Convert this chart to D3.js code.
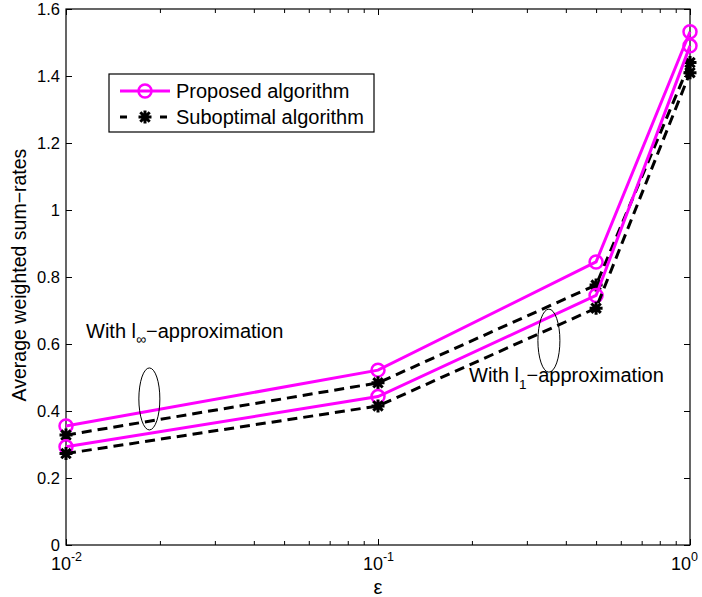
<html>
<head>
  <style>
    body {
      margin: 0;
      background: white;
      font-family: "Liberation Sans", Arial, Helvetica, sans-serif;
    }
    svg {
      display: block;
    }
  </style>
  <script src="https://d3js.org/d3.v7.min.js"></script>
</head>
<body>
  <svg id="Chart"></svg>
<script>
  // x values (epsilon), log axis
  let epsValues = [0.01, 0.1, 0.5, 1];
  // average weighted sum-rates
  let proposedLinf = [0.355, 0.522, 0.845, 1.532];
  let suboptimalLinf = [0.328, 0.484, 0.776, 1.440];
  let proposedL1 = [0.293, 0.443, 0.745, 1.490];
  let suboptimalL1 = [0.273, 0.415, 0.707, 1.410];

  let yTicks = [0, 0.2, 0.4, 0.6, 0.8, 1, 1.2, 1.4, 1.6];
  let xMajorTicks = [0.01, 0.1, 1];
  let xTickExponents = ["-2", "-1", "0"];
  let legendNames = ["Proposed algorithm", "Suboptimal algorithm"];

  function getConfig() {
    let width = 702;
    let height = 597;
    let margin = { top: 9, bottom: 52, left: 66, right: 12 };
    let bodyWidth = width - margin.left - margin.right;
    let bodyHeight = height - margin.top - margin.bottom;
    let container = d3.select("#Chart")
      .attr("width", width)
      .attr("height", height);
    return { width, height, margin, bodyWidth, bodyHeight, container };
  }

  function getScales(config) {
    let xScale = d3.scaleLog()
      .domain([0.01, 1])
      .range([0, config.bodyWidth]);
    let yScale = d3.scaleLinear()
      .domain([0, 1.6])
      .range([config.bodyHeight, 0]);
    return { xScale, yScale };
  }

  // MATLAB-ish '*' marker
  let starPath = "M-6.5,0H6.5M0,-6.5V6.5M-4.7,-4.7L4.7,4.7M-4.7,4.7L4.7,-4.7";

  function drawAxes(body, scales, config) {
    let { xScale, yScale } = scales;
    let { bodyWidth, bodyHeight } = config;
    let minorTicks = xScale.ticks().filter(t => !xMajorTicks.some(m => Math.abs(m - t) < 1e-9));

    // bottom: major + minor ticks pointing inwards
    let xMajor = body.append("g")
      .attr("transform", `translate(0,${bodyHeight})`)
      .call(d3.axisBottom(xScale).tickValues(xMajorTicks).tickSizeInner(-6).tickSizeOuter(0).tickPadding(10));
    body.append("g")
      .attr("transform", `translate(0,${bodyHeight})`)
      .call(d3.axisBottom(xScale).tickValues(minorTicks).tickSizeInner(-4).tickSizeOuter(0).tickFormat(""));
    // top ticks
    body.append("g")
      .call(d3.axisTop(xScale).tickValues(xMajorTicks).tickSizeInner(-6).tickSizeOuter(0).tickFormat(""));
    body.append("g")
      .call(d3.axisTop(xScale).tickValues(minorTicks).tickSizeInner(-4).tickSizeOuter(0).tickFormat(""));

    // 10^k labels
    xMajor.selectAll(".tick text").each(function(d, i) {
      let t = d3.select(this).text("")
        .attr("font-size", 18)
        .attr("font-family", null)
        .attr("dy", "0.85em");
      // last label sits on the window edge, nudge it in a little
      if (i === xMajorTicks.length - 1) t.attr("x", -6);
      t.append("tspan").text("10");
      t.append("tspan").text(xTickExponents[i])
        .attr("font-size", 12.5)
        .attr("dy", "-0.75em");
    });

    let yLeft = body.append("g")
      .call(d3.axisLeft(yScale).tickValues(yTicks).tickSizeInner(-6).tickSizeOuter(0).tickPadding(6)
        .tickFormat(d => String(d)));
    yLeft.selectAll(".tick text").attr("font-size", 16.5).attr("font-family", null);
    body.append("g")
      .attr("transform", `translate(${bodyWidth},0)`)
      .call(d3.axisRight(yScale).tickValues(yTicks).tickSizeInner(-6).tickSizeOuter(0).tickFormat(""));

    body.selectAll(".domain").remove();
    body.selectAll(".tick line").attr("stroke", "#000");

    body.append("rect")
      .attr("width", bodyWidth)
      .attr("height", bodyHeight)
      .attr("fill", "none")
      .attr("stroke", "#000")
      .attr("stroke-width", 1.2);
  }

  function drawSeries(body, scales, values, kind) {
    let { xScale, yScale } = scales;
    let points = epsValues.map((e, i) => [e, values[i]]);
    let line = d3.line()
      .x(d => xScale(d[0]))
      .y(d => yScale(d[1]));

    let path = body.append("path")
      .datum(points)
      .attr("d", line)
      .attr("fill", "none")
      .attr("stroke-width", 3);

    if (kind === "proposed") {
      path.attr("stroke", "#ff00ff");
      body.selectAll(null)
        .data(points)
        .enter()
        .append("circle")
        .attr("cx", d => xScale(d[0]))
        .attr("cy", d => yScale(d[1]))
        .attr("r", 6.5)
        .attr("fill", "none")
        .attr("stroke", "#ff00ff")
        .attr("stroke-width", 2.5);
    } else {
      path.attr("stroke", "#000").attr("stroke-dasharray", "10,6");
      body.selectAll(null)
        .data(points)
        .enter()
        .append("path")
        .attr("d", starPath)
        .attr("transform", d => `translate(${xScale(d[0])},${yScale(d[1])})`)
        .attr("stroke", "#000")
        .attr("stroke-width", 3);
    }
  }

  function drawAnnotations(body, scales) {
    let { xScale, yScale } = scales;
    // ellipses grouping the two curve pairs
    body.append("ellipse")
      .attr("cx", xScale(0.0185)).attr("cy", yScale(0.436))
      .attr("rx", 10.5).attr("ry", 31)
      .attr("fill", "none").attr("stroke", "#000").attr("stroke-width", 1);
    body.append("ellipse")
      .attr("cx", xScale(0.353)).attr("cy", yScale(0.61))
      .attr("rx", 11).attr("ry", 31.5)
      .attr("fill", "none").attr("stroke", "#000").attr("stroke-width", 1);

    let t1 = body.append("text")
      .attr("x", 20).attr("y", 329)
      .attr("font-size", 20);
    t1.append("tspan").text("With l");
    t1.append("tspan").text("\u221e").attr("font-size", 14).attr("dy", 6);
    t1.append("tspan").text("\u2212approximation").attr("dy", -6);

    let t2 = body.append("text")
      .attr("x", 403).attr("y", 373)
      .attr("font-size", 20);
    t2.append("tspan").text("With l");
    t2.append("tspan").text("1").attr("font-size", 13.5).attr("dy", 7);
    t2.append("tspan").text("\u2212approximation").attr("dy", -7);
  }

  function drawLegend(container) {
    let g = container.append("g");
    g.append("rect")
      .attr("x", 109).attr("y", 74)
      .attr("width", 265).attr("height", 58)
      .attr("fill", "white").attr("stroke", "#000").attr("stroke-width", 1.2);

    let rows = [91, 117];
    // proposed
    g.append("line")
      .attr("x1", 120).attr("x2", 170).attr("y1", rows[0]).attr("y2", rows[0])
      .attr("stroke", "#ff00ff").attr("stroke-width", 3);
    g.append("circle")
      .attr("cx", 145).attr("cy", rows[0]).attr("r", 6.5)
      .attr("fill", "none").attr("stroke", "#ff00ff").attr("stroke-width", 2.5);
    // suboptimal
    g.append("line")
      .attr("x1", 120).attr("x2", 170).attr("y1", rows[1]).attr("y2", rows[1])
      .attr("stroke", "#000").attr("stroke-width", 3).attr("stroke-dasharray", "7,33");
    g.append("path")
      .attr("d", starPath)
      .attr("transform", `translate(145,${rows[1]})`)
      .attr("stroke", "#000").attr("stroke-width", 3);

    g.selectAll("text.legend")
      .data(legendNames)
      .enter()
      .append("text")
      .attr("class", "legend")
      .attr("x", 176)
      .attr("y", (d, i) => rows[i] + 7)
      .attr("font-size", 20)
      .text(d => d);
  }

  function drawLabels(container, config) {
    container.append("text")
      .attr("x", config.margin.left + config.bodyWidth / 2)
      .attr("y", 594)
      .attr("text-anchor", "middle")
      .attr("font-size", 20)
      .text("\u03b5");
    container.append("text")
      .attr("transform", "translate(26,275) rotate(-90)")
      .attr("text-anchor", "middle")
      .attr("font-size", 19.5)
      .text("Average weighted sum\u2212rates");
  }

  function drawChart() {
    let config = getConfig();
    let scales = getScales(config);
    let body = config.container.append("g")
      .attr("transform", `translate(${config.margin.left},${config.margin.top})`);
    drawAxes(body, scales, config);
    drawSeries(body, scales, proposedLinf, "proposed");
    drawSeries(body, scales, suboptimalLinf, "suboptimal");
    drawSeries(body, scales, proposedL1, "proposed");
    drawSeries(body, scales, suboptimalL1, "suboptimal");
    drawAnnotations(body, scales);
    drawLegend(config.container);
    drawLabels(config.container, config);
  }

  drawChart();
</script>
</body>
</html>
